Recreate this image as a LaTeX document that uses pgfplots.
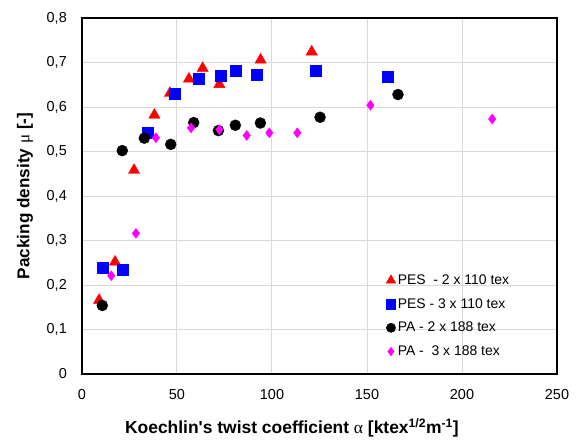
\documentclass[border=0pt]{standalone}
\usepackage{fontspec}
\setmainfont{Liberation Sans}
\newfontfamily\symf{Liberation Serif}
\usepackage{pgfplots}
\pgfplotsset{compat=1.18}
\definecolor{gridgray}{RGB}{217,217,217}
\definecolor{mag}{RGB}{255,0,255}
\begin{document}
\begin{tikzpicture}
\begin{axis}[
  scale only axis,
  width=475bp, height=356bp,
  xmin=0, xmax=250, ymin=0, ymax=0.8,
  xtick={0,50,100,150,200,250},
  ytick={0,0.1,0.2,0.3,0.4,0.5,0.6,0.7,0.8},
  yticklabels={0,{0,1},{0,2},{0,3},{0,4},{0,5},{0,6},{0,7},{0,8}},
  /pgf/number format/assume math mode=true,
  major tick length=0pt,
  grid=major,
  major grid style={gridgray, line width=1bp},
  axis line style={black, line width=1.5bp},
  tick label style={font=\fontsize{14.5}{16}\selectfont, inner sep=0pt},
  xticklabel style={anchor=center, yshift=-21bp},
  yticklabel style={anchor=east, xshift=-15bp},
  xlabel={\bfseries Koechlin\textquotesingle s twist coefficient {\symf\mdseries α} [ktex\textsuperscript{1/2}m\textsuperscript{-1}]},
  ylabel={\bfseries Packing density {\symf\mdseries μ} [-]},
  xlabel style={font=\fontsize{17.5}{20}\selectfont, at={(axis description cs:0.442,-0.1517)}, anchor=center},
  ylabel style={font=\fontsize{17.2}{20}\selectfont, at={(axis description cs:-0.12,0.5)}, anchor=center, rotate=0},
  legend style={at={(axis description cs:0.64,0.285)}, anchor=north west, draw=none, fill=none,
    font=\fontsize{14}{16}\selectfont, row sep=8.5bp, inner sep=0pt,
    /tikz/every even column/.append style={column sep=2bp}},
  legend cell align=left,
  legend image code/.code={\draw[#1, mark options={scale=0.85}] plot coordinates {(0.15cm,0cm)};},
]
\addplot[only marks, mark=triangle*, color=red, mark size=6.5bp] coordinates {
(9,0.166) (17.4,0.252) (27.4,0.458) (38.1,0.582) (46.3,0.631) (56.3,0.663)
(63.5,0.687) (72.3,0.651) (94,0.706) (120.9,0.724)};
\addlegendentry{PES\ \ - 2 x 110 tex}
\addplot[only marks, mark=square*, color=blue, mark size=5.5bp] coordinates {
(10.9,0.239) (21.6,0.234) (34.4,0.542) (48.8,0.631) (61.4,0.664) (73,0.670)
(80.7,0.682) (92.1,0.672) (123,0.681) (160.7,0.667)};
\addlegendentry{PES - 3 x 110 tex}
\addplot[only marks, mark=*, color=black, mark size=5.5bp] coordinates {
(10.7,0.154) (21.2,0.502) (32.8,0.530) (46.7,0.516) (58.8,0.565) (71.8,0.547)
(80.7,0.559) (93.9,0.564) (125.3,0.577) (166.3,0.628)};
\addlegendentry{PA - 2 x 188 tex}
\addplot[only marks, mark=diamond*, color=mag, mark size=5bp] coordinates {
(15.4,0.221) (28.4,0.316) (38.9,0.531) (57.4,0.553) (72.3,0.549) (86.7,0.536)
(98.6,0.542) (113.3,0.542) (151.8,0.604) (215.9,0.573)};
\addlegendentry{PA -\ \ 3 x 188 tex}
\coordinate (bl) at (rel axis cs:-0.1726,-0.1882);
\coordinate (tr) at (rel axis cs:1.0463,1.0506);
\end{axis}
\pgfresetboundingbox
\useasboundingbox (bl) rectangle (tr);
\end{tikzpicture}
\end{document}
